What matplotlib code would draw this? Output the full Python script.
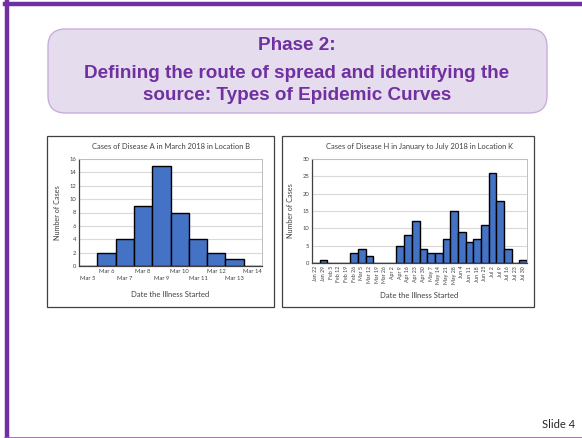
import matplotlib
matplotlib.use("Agg")
import matplotlib.pyplot as plt
from matplotlib.patches import FancyBboxPatch, Rectangle
from matplotlib.lines import Line2D

W, H = 582, 438
PURPLE = "#7030A0"
BAR = "#4472C4"
GRID = "#D9D9D9"

# --- data ---
dates_a = ["Mar 5", "Mar 6", "Mar 7", "Mar 8", "Mar 9", "Mar 10",
           "Mar 11", "Mar 12", "Mar 13", "Mar 14"]
cases_a = [0, 2, 4, 9, 15, 8, 4, 2, 1, 0]

weeks_h = ["Jan 22", "Jan 29", "Feb 5", "Feb 12", "Feb 19", "Feb 26", "Mar 5",
           "Mar 12", "Mar 19", "Mar 26", "Apr 2", "Apr 9", "Apr 16", "Apr 23",
           "Apr 30", "May 7", "May 14", "May 21", "May 28", "Jun 4", "Jun 11",
           "Jun 18", "Jun 25", "Jul 2", "Jul 9", "Jul 16", "Jul 23", "Jul 30"]
cases_h = [0, 1, 0, 0, 0, 3, 4, 2, 0, 0, 0, 5, 8, 12, 4, 3, 3, 7, 15, 9,
           6, 7, 11, 26, 18, 4, 0, 1]

title_lines = ["Phase 2:",
               "Defining the route of spread and identifying the",
               "source: Types of Epidemic Curves"]


def px_rect(x0, y0, x1, y1):
    return [x0 / W, 1 - y1 / H, (x1 - x0) / W, (y1 - y0) / H]


def style_axes(ax, ymax, ystep):
    ax.set_ylim(0, ymax)
    ax.set_yticks(range(0, ymax + 1, ystep))
    ax.yaxis.grid(True, color=GRID, linewidth=0.8)
    ax.set_axisbelow(True)
    for side in ("top", "right"):
        ax.spines[side].set_color("#BFBFBF")
        ax.spines[side].set_linewidth(0.7)
    for side in ("left", "bottom"):
        ax.spines[side].set_color("#404040")
        ax.spines[side].set_linewidth(0.9)
    ax.tick_params(length=0, labelsize=4.2, colors="#404040", pad=2)


plt.rcParams["font.family"] = ["Lato", "DejaVu Sans"]
fig = plt.figure(figsize=(W / 100, H / 100), dpi=100)

# slide border
fig.add_artist(Line2D([7 / W, 7 / W], [0, 1 - 2 / H], transform=fig.transFigure,
                      color=PURPLE, linewidth=3.2))
fig.add_artist(Line2D([5 / W, 1], [1 - 4 / H, 1 - 4 / H], transform=fig.transFigure,
                      color=PURPLE, linewidth=3.2))
fig.add_artist(Line2D([5 / W, 1], [0.5 / H, 0.5 / H], transform=fig.transFigure,
                      color="#8C5CB8", linewidth=1.2))

# title box
box = FancyBboxPatch((48 / W, 1 - 113 / H), 499 / W, 84 / H,
                     boxstyle="round,pad=0,rounding_size=0.03",
                     transform=fig.transFigure, facecolor="#E5DDED",
                     edgecolor="#C9AEDD", linewidth=1.0, mutation_aspect=W / H)
fig.add_artist(box)
for txt, y in zip(title_lines, [46, 74, 96]):
    fig.text(297 / W, 1 - y / H, txt, ha="center", va="center", fontsize=13.6,
             fontweight="bold", color=PURPLE, family="Liberation Sans")

# chart frames
for x0, x1 in [(47, 274), (282, 534)]:
    fig.add_artist(Rectangle((x0 / W, 1 - 307 / H), (x1 - x0) / W, 171 / H,
                             transform=fig.transFigure, fill=False,
                             edgecolor="#404040", linewidth=0.9))

# chart A
ax1 = fig.add_axes(px_rect(79, 159, 262, 266))
ax1.bar(range(len(dates_a)), cases_a, width=1.0, color=BAR,
        edgecolor="black", linewidth=1.0)
ax1.set_xlim(-0.5, len(dates_a) - 0.5)
style_axes(ax1, 16, 2)
ax1.set_xticks(range(len(dates_a)))
ax1.set_xticklabels([("\n" + d) if i % 2 == 0 else d for i, d in enumerate(dates_a)],
                    fontsize=4.2, linespacing=1.6)
ax1.set_title("Cases of Disease A in March 2018 in Location B", fontsize=5.4,
              color="#404040", pad=7)
ax1.set_ylabel("Number of Cases", fontsize=5.2, color="#404040", labelpad=6)
ax1.set_xlabel("Date the Illness Started", fontsize=5.5, color="#404040", labelpad=7)

# chart H
ax2 = fig.add_axes(px_rect(312, 159, 527, 263))
ax2.bar(range(len(weeks_h)), cases_h, width=1.0, color=BAR,
        edgecolor="black", linewidth=1.0)
ax2.set_xlim(-0.5, len(weeks_h) - 0.5)
style_axes(ax2, 30, 5)
ax2.set_xticks(range(len(weeks_h)))
ax2.set_xticklabels(weeks_h, rotation=90, fontsize=3.8)
ax2.set_title("Cases of Disease H in January to July 2018 in Location K", fontsize=5.4,
              color="#404040", pad=7)
ax2.set_ylabel("Number of Cases", fontsize=5.2, color="#404040", labelpad=6)
ax2.set_xlabel("Date the Illness Started", fontsize=5.5, color="#404040", labelpad=6)

fig.text(575 / W, 1 - 424 / H, "Slide 4", ha="right", va="center", fontsize=8,
         color="#262626")

fig.savefig("out.png", dpi=100)
